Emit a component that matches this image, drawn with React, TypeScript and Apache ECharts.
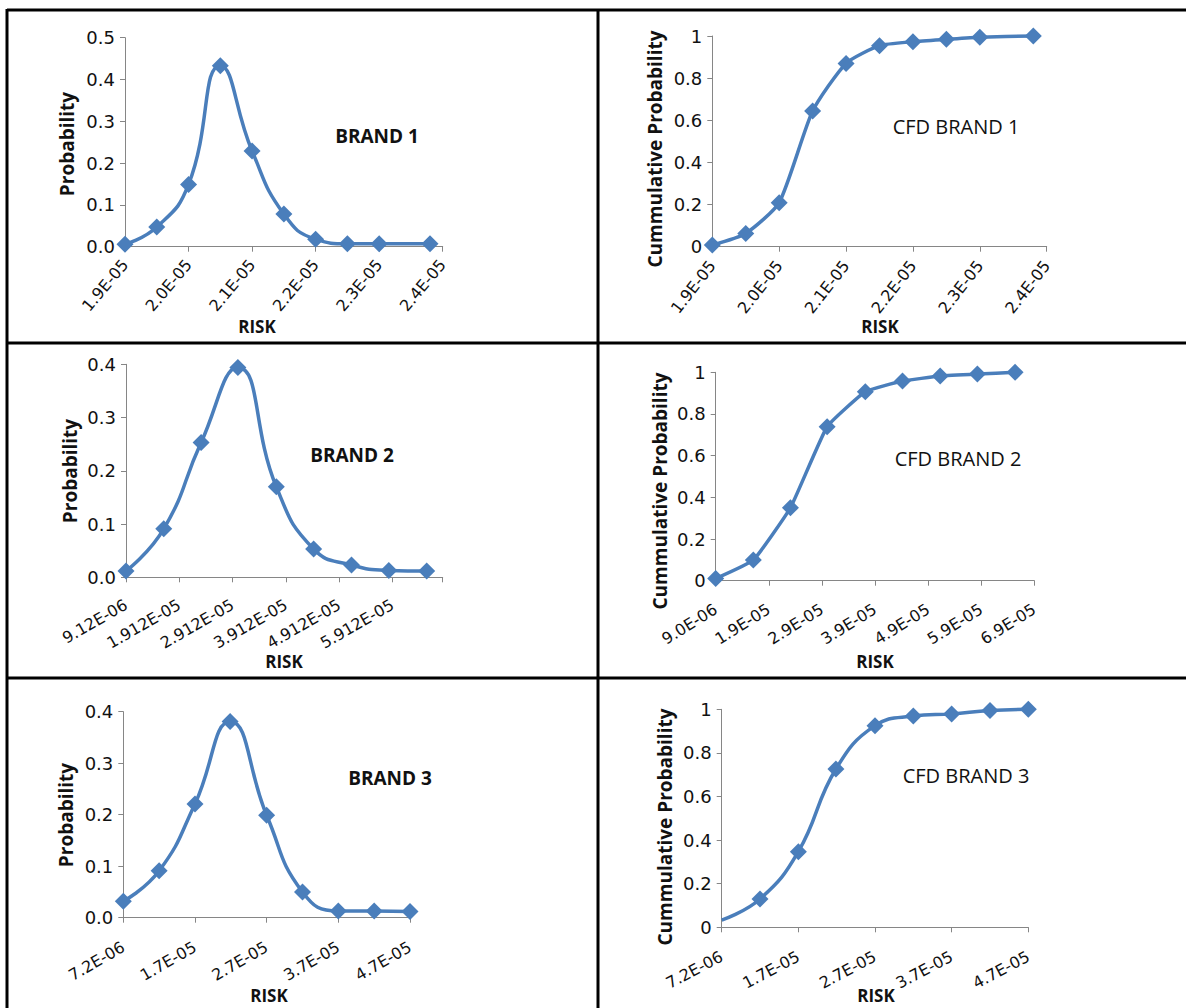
import React, { useEffect, useRef } from 'react';
import * as echarts from 'echarts';

// ---- data (RISK in raw units) ----
const brand1Risk = [1.9e-5, 1.95e-5, 2.0e-5, 2.05e-5, 2.1e-5, 2.15e-5, 2.2e-5, 2.25e-5, 2.3e-5, 2.38e-5];
const brand1Prob = [0.006, 0.047, 0.149, 0.433, 0.229, 0.078, 0.018, 0.007, 0.007, 0.007];
const brand1Cum = [0.008, 0.063, 0.209, 0.644, 0.87, 0.954, 0.973, 0.984, 0.994, 1.0];
const brand1Ticks = ['1.9E-05', '2.0E-05', '2.1E-05', '2.2E-05', '2.3E-05', '2.4E-05'];

const brand2Risk = [9.12e-6, 16.2e-6, 23.2e-6, 30.1e-6, 37.3e-6, 44.3e-6, 51.4e-6, 58.4e-6, 65.5e-6];
const brand2Prob = [0.012, 0.091, 0.253, 0.394, 0.17, 0.053, 0.023, 0.013, 0.012];
const brand2Cum = [0.01, 0.099, 0.35, 0.739, 0.907, 0.958, 0.982, 0.992, 1.0];
const brand2Ticks = ['9.12E-06', '1.912E-05', '2.912E-05', '3.912E-05', '4.912E-05', '5.912E-05'];
const brand2CumTicks = ['9.0E-06', '1.9E-05', '2.9E-05', '3.9E-05', '4.9E-05', '5.9E-05', '6.9E-05'];

const brand3Risk = [7.2e-6, 12.2e-6, 17.2e-6, 22.1e-6, 27.2e-6, 32.2e-6, 37.2e-6, 42.2e-6, 47.2e-6];
const brand3Prob = [0.032, 0.091, 0.221, 0.381, 0.199, 0.05, 0.013, 0.013, 0.012];
const brand3Cum = [0.033, 0.13, 0.347, 0.726, 0.925, 0.969, 0.979, 0.994, 1.0];
const brand3Ticks = ['7.2E-06', '1.7E-05', '2.7E-05', '3.7E-05', '4.7E-05'];

const FONT = '"Open Sans", "Noto Sans", sans-serif';
const TICK_FONT = '"DejaVu Sans", "Open Sans", sans-serif';
const BLUE = '#4A7EBB';
const AXIS = '#868686';

type Panel = {
  left: number; top: number; width: number; height: number;
  xs: number[]; ys: number[];
  xMin: number; xMax: number; xInt: number; xTicks: string[]; rot: number; margin: number;
  yMax: number; yInt: number; cfd: boolean; smooth: number; hideFirst?: boolean;
  title: string; titleX: number; titleY: number;
  yName: string; yNameX: number; yNameY: number;
  xNameX: number; xNameY: number;
};

const panels: Panel[] = [
  { left: 125, top: 37.7, width: 317.7, height: 209, xs: brand1Risk, ys: brand1Prob,
    xMin: 19, xMax: 24, xInt: 1, xTicks: brand1Ticks, rot: 50, margin: 15, yMax: 0.5, yInt: 0.1, cfd: false, smooth: 0.5,
    title: 'BRAND 1', titleX: 377, titleY: 136, yName: 'Probability', yNameX: 67, yNameY: 144, xNameX: 257, xNameY: 326 },
  { left: 712.3, top: 36, width: 334.4, height: 210.7, xs: brand1Risk, ys: brand1Cum,
    xMin: 19, xMax: 24, xInt: 1, xTicks: brand1Ticks, rot: 52, margin: 16, yMax: 1, yInt: 0.2, cfd: true, smooth: 0.2,
    title: 'CFD BRAND 1', titleX: 956, titleY: 126, yName: 'Cummulative Probability', yNameX: 655, yNameY: 149, xNameX: 880, xNameY: 326 },
  { left: 126, top: 364.3, width: 316.7, height: 213, xs: brand2Risk, ys: brand2Prob,
    xMin: 9.12, xMax: 68.5, xInt: 10, xTicks: brand2Ticks, rot: 30, margin: 26, yMax: 0.4, yInt: 0.1, cfd: false, smooth: 0.5,
    title: 'BRAND 2', titleX: 352, titleY: 455, yName: 'Probability', yNameX: 70, yNameY: 471, xNameX: 284, xNameY: 661 },
  { left: 715.7, top: 372.3, width: 318.6, height: 208.4, xs: brand2Risk, ys: brand2Cum,
    xMin: 9.12, xMax: 69.12, xInt: 10, xTicks: brand2CumTicks, rot: 32, margin: 27, yMax: 1, yInt: 0.2, cfd: true, smooth: 0.12,
    title: 'CFD BRAND 2', titleX: 958, titleY: 458, yName: 'Cummulative Probability', yNameX: 660, yNameY: 491, xNameX: 875, xNameY: 661 },
  { left: 123.3, top: 711.7, width: 286.7, height: 206, xs: brand3Risk, ys: brand3Prob,
    xMin: 7.2, xMax: 47.2, xInt: 10, xTicks: brand3Ticks, rot: 30, margin: 28, yMax: 0.4, yInt: 0.1, cfd: false, smooth: 0.5,
    title: 'BRAND 3', titleX: 390, titleY: 778, yName: 'Probability', yNameX: 66, yNameY: 815, xNameX: 269, xNameY: 995 },
  { left: 721.7, top: 709.3, width: 306.6, height: 218, xs: brand3Risk, ys: brand3Cum,
    xMin: 7.2, xMax: 47.2, xInt: 10, xTicks: brand3Ticks, rot: 28, margin: 28, yMax: 1, yInt: 0.2, cfd: true, smooth: 0.45, hideFirst: true,
    title: 'CFD BRAND 3', titleX: 966, titleY: 775, yName: 'Cummulative Probability', yNameX: 665, yNameY: 827, xNameX: 876, xNameY: 995 },
];

function textEl(text: string, x: number, y: number, size: number, weight: string, rot = 0) {
  return {
    type: 'text', x, y, rotation: rot, z: 10,
    style: {
      text, fill: '#111', font: `${weight} ${size}px ${FONT}`,
      align: 'center', verticalAlign: 'middle', textAlign: 'center', textVerticalAlign: 'middle',
    },
  };
}

function lineEl(x1: number, y1: number, x2: number, y2: number) {
  return { type: 'line', shape: { x1, y1, x2, y2 }, style: { stroke: '#000', lineWidth: 3 }, z: 20 };
}

export default function App() {
  const ref = useRef<HTMLDivElement>(null);
  useEffect(() => {
    if (!ref.current) return;
    const chart = echarts.init(ref.current, undefined, { renderer: 'svg' });
    const grid: any[] = [];
    const xAxis: any[] = [];
    const yAxis: any[] = [];
    const series: any[] = [];
    const graphic: any[] = [];
    panels.forEach((p, i) => {
      grid.push({ left: p.left, top: p.top, width: p.width, height: p.height, containLabel: false });
      xAxis.push({
        type: 'value', gridIndex: i, min: p.xMin, max: p.xMax, interval: p.xInt,
        axisLine: { show: true, lineStyle: { color: AXIS, width: 1 } },
        axisTick: { show: true, length: 5, lineStyle: { color: AXIS } },
        splitLine: { show: false },
        axisLabel: {
          rotate: p.rot, margin: p.margin, fontSize: 16, color: '#111', fontFamily: TICK_FONT,
          showMinLabel: true,
          formatter: (v: number) => {
            const k = (v - p.xMin) / p.xInt;
            const idx = Math.round(k);
            if (Math.abs(k - idx) > 0.01) return '';
            return p.xTicks[idx] ?? '';
          },
        },
      });
      yAxis.push({
        type: 'value', gridIndex: i, min: 0, max: p.yMax, interval: p.yInt,
        axisLine: { show: true, lineStyle: { color: AXIS, width: 1 } },
        axisTick: { show: true, length: 5, lineStyle: { color: AXIS } },
        splitLine: { show: false },
        axisLabel: {
          margin: 10, fontSize: 18, color: '#111', fontFamily: TICK_FONT,
          formatter: (v: number) => (p.cfd ? String(Number(v.toFixed(1))) : v.toFixed(1)),
        },
      });
      series.push({
        type: 'line', xAxisIndex: i, yAxisIndex: i, smooth: p.smooth, clip: false,
        symbol: 'diamond', symbolSize: 17,
        lineStyle: { color: BLUE, width: 3.5 },
        itemStyle: { color: BLUE },
        data: p.xs.map((x, j) => {
          const value = [x * 1e6, p.ys[j]];
          if (p.hideFirst && j === 0) return { value, symbol: 'none' };
          return value;
        }),
      });
      const isCfd = p.title.startsWith('CFD');
      graphic.push(textEl(p.title, p.titleX, p.titleY, isCfd ? 20 : 19, isCfd ? 'normal' : 'bold'));
      graphic.push(textEl(p.yName, p.yNameX, p.yNameY, 19, 'bold', Math.PI / 2));
      graphic.push(textEl('RISK', p.xNameX, p.xNameY, 17, 'bold'));
    });
    // table borders
    graphic.push(lineEl(7, 10, 1186, 10));
    graphic.push(lineEl(7, 343, 1186, 343));
    graphic.push(lineEl(7, 678, 1186, 678));
    graphic.push(lineEl(7, 9, 7, 1008));
    graphic.push(lineEl(598, 9, 598, 1008));

    chart.setOption({
      animation: false,
      backgroundColor: '#fff',
      grid, xAxis, yAxis, series, graphic,
    });
    return () => chart.dispose();
  }, []);
  return (
    <div
      ref={ref}
      style={{ position: 'absolute', left: 0, top: 0, width: 1186, height: 1008, background: '#fff' }}
    />
  );
}
